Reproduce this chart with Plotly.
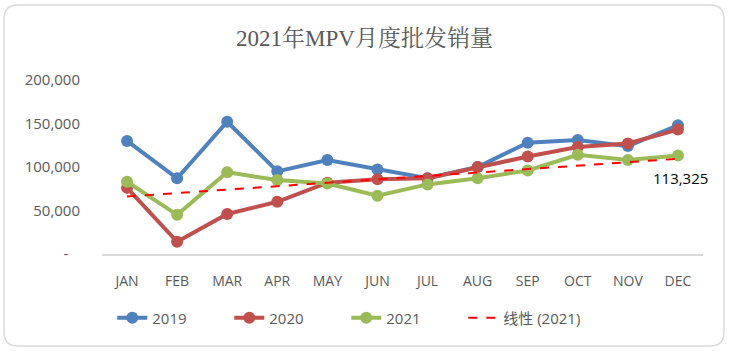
import numpy as np
import plotly.graph_objects as go

months = ["JAN","FEB","MAR","APR","MAY","JUN","JUL","AUG","SEP","OCT","NOV","DEC"]
s2019 = [130000, 87000, 152000, 95000, 108000, 97000, 87000, 100000, 128000, 131000, 124000, 148000]
s2020 = [76000, 14000, 46000, 60000, 82000, 86000, 87000, 100000, 112000, 123000, 127000, 143000]
s2021 = [83000, 45000, 94000, 85000, 81000, 67000, 80000, 87000, 96000, 114000, 108000, 113325]
ytickvals = [0, 50000, 100000, 150000, 200000]
yticktext = ["-\u00a0\u00a0\u00a0", "50,000", "100,000", "150,000", "200,000"]
title = "2021年MPV月度批发销量"

xi = np.arange(1, len(months) + 1)
k, b = np.polyfit(xi, np.array(s2021, dtype=float), 1)
trend = (k * xi + b).tolist()

fig = go.Figure()
for name, vals, col in [("2019", s2019, "#4F81BD"), ("2020", s2020, "#C0504D"), ("2021", s2021, "#9BBB59")]:
    fig.add_trace(go.Scatter(x=months, y=vals, name=name, mode="lines+markers",
                             line=dict(color=col, width=4), marker=dict(color=col, size=12)))
fig.add_trace(go.Scatter(x=months, y=trend, name="线性 (2021)", mode="lines",
                         line=dict(color="#FF0000", width=2, dash="dash")))

fig.add_annotation(x=months[-1], y=s2021[-1], xref="x", yref="y", text=f"{s2021[-1]:,}",
                   showarrow=False, yshift=-23, xshift=3,
                   font=dict(family="Open Sans, Liberation Sans", size=15, color="#000000"))

fig.update_layout(
    width=729, height=351,
    margin=dict(l=102, r=26, t=80, b=97),
    paper_bgcolor="white", plot_bgcolor="white",
    title=dict(text=title, x=0.5, xanchor="center", y=1 - 38/351, yanchor="middle",
               font=dict(family="Liberation Serif, Noto Serif CJK SC, Noto Sans CJK SC", size=23, color="#595959")),
    xaxis=dict(showgrid=False, showline=True, linecolor="#D9D9D9", linewidth=1.5,
               ticks="outside", tickcolor="rgba(0,0,0,0)", ticklen=13,
               tickfont=dict(family="Open Sans, Liberation Sans", size=14, color="#595959"),
               range=[-0.5, 11.5], fixedrange=True),
    yaxis=dict(range=[0, 200000], showgrid=False, showline=False, zeroline=False,
               tickvals=ytickvals, ticktext=yticktext, ticks="outside", tickcolor="rgba(0,0,0,0)", ticklen=18,
               tickfont=dict(family="Open Sans, Liberation Sans", size=15, color="#595959")),
    legend=dict(orientation="h", x=0.475, xanchor="center", xref="container",
                y=1 - 318/351, yanchor="middle", yref="container",
                font=dict(family="Open Sans, Noto Sans CJK SC", size=15, color="#595959"),
                entrywidth=72, entrywidthmode="pixels"),
    showlegend=True,
)

W, H = 729, 351
l, r, t, bm = 102, 26, 80, 97
pw, ph = W - l - r, H - t - bm
def px(x): return (x - l) / pw
def py(y): return (H - bm - y) / ph
x0, x1, y0, y1, rad = 4, 724, 5, 346, 14
path = (f"M {px(x0+rad)},{py(y0)} L {px(x1-rad)},{py(y0)} "
        f"Q {px(x1)},{py(y0)} {px(x1)},{py(y0+rad)} L {px(x1)},{py(y1-rad)} "
        f"Q {px(x1)},{py(y1)} {px(x1-rad)},{py(y1)} L {px(x0+rad)},{py(y1)} "
        f"Q {px(x0)},{py(y1)} {px(x0)},{py(y1-rad)} L {px(x0)},{py(y0+rad)} "
        f"Q {px(x0)},{py(y0)} {px(x0+rad)},{py(y0)} Z")
fig.add_shape(type="path", xref="paper", yref="paper", path=path,
              line=dict(color="#D9D9D9", width=1.5), layer="below")

fig.write_html("out.html")
